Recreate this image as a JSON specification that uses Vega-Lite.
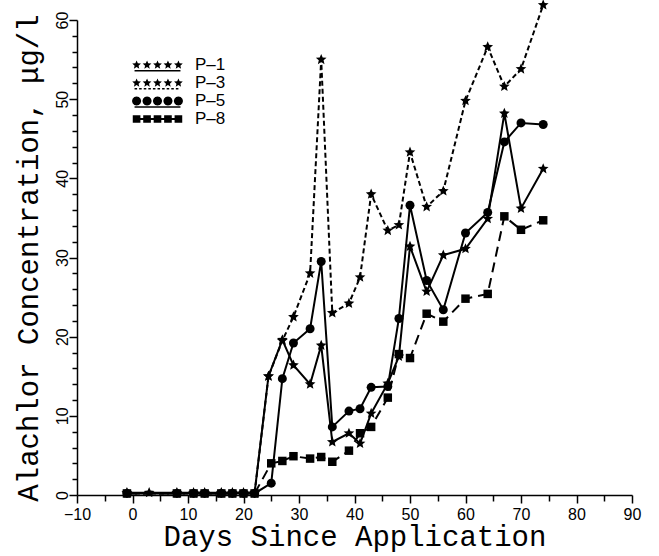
{
  "$schema": "https://vega.github.io/schema/vega-lite/v6.json",
  "width": 555,
  "height": 475,
  "autosize": {"type": "none"},
  "padding": {"left": 77, "top": 20, "right": 27, "bottom": 61},
  "background": "white",
  "config": {"view": {"stroke": null}},
  "data": {
    "values": [
      {"series": "P-1", "day": -1, "value": 0.3},
      {"series": "P-1", "day": 3, "value": 0.3},
      {"series": "P-1", "day": 8, "value": 0.3},
      {"series": "P-1", "day": 11, "value": 0.3},
      {"series": "P-1", "day": 13, "value": 0.3},
      {"series": "P-1", "day": 16, "value": 0.3},
      {"series": "P-1", "day": 18, "value": 0.3},
      {"series": "P-1", "day": 20, "value": 0.3},
      {"series": "P-1", "day": 22, "value": 0.3},
      {"series": "P-1", "day": 24.5, "value": 15.0},
      {"series": "P-1", "day": 27, "value": 19.6},
      {"series": "P-1", "day": 29, "value": 16.4},
      {"series": "P-1", "day": 32, "value": 14.0},
      {"series": "P-1", "day": 34, "value": 18.9},
      {"series": "P-1", "day": 36, "value": 6.7},
      {"series": "P-1", "day": 39, "value": 7.8},
      {"series": "P-1", "day": 41, "value": 6.5},
      {"series": "P-1", "day": 43, "value": 10.3},
      {"series": "P-1", "day": 46, "value": 14.1},
      {"series": "P-1", "day": 48, "value": 17.5},
      {"series": "P-1", "day": 50, "value": 31.4},
      {"series": "P-1", "day": 53, "value": 25.7},
      {"series": "P-1", "day": 56, "value": 30.3},
      {"series": "P-1", "day": 60, "value": 31.1},
      {"series": "P-1", "day": 64, "value": 34.9},
      {"series": "P-1", "day": 67, "value": 48.2},
      {"series": "P-1", "day": 70, "value": 36.2},
      {"series": "P-1", "day": 74, "value": 41.2},

      {"series": "P-3", "day": -1, "value": 0.2},
      {"series": "P-3", "day": 8, "value": 0.2},
      {"series": "P-3", "day": 11, "value": 0.2},
      {"series": "P-3", "day": 13, "value": 0.2},
      {"series": "P-3", "day": 16, "value": 0.2},
      {"series": "P-3", "day": 18, "value": 0.2},
      {"series": "P-3", "day": 20, "value": 0.2},
      {"series": "P-3", "day": 22, "value": 0.2},
      {"series": "P-3", "day": 24.5, "value": 15.0},
      {"series": "P-3", "day": 27, "value": 19.5},
      {"series": "P-3", "day": 29, "value": 22.5},
      {"series": "P-3", "day": 32, "value": 28.0},
      {"series": "P-3", "day": 34, "value": 55.0},
      {"series": "P-3", "day": 36, "value": 23.0},
      {"series": "P-3", "day": 39, "value": 24.2},
      {"series": "P-3", "day": 41, "value": 27.5},
      {"series": "P-3", "day": 43, "value": 38.0},
      {"series": "P-3", "day": 46, "value": 33.4},
      {"series": "P-3", "day": 48, "value": 34.1},
      {"series": "P-3", "day": 50, "value": 43.3},
      {"series": "P-3", "day": 53, "value": 36.4},
      {"series": "P-3", "day": 56, "value": 38.4},
      {"series": "P-3", "day": 60, "value": 49.8},
      {"series": "P-3", "day": 64, "value": 56.6},
      {"series": "P-3", "day": 67, "value": 51.6},
      {"series": "P-3", "day": 70, "value": 53.8},
      {"series": "P-3", "day": 74, "value": 61.9},

      {"series": "P-5", "day": -1, "value": 0.2},
      {"series": "P-5", "day": 8, "value": 0.2},
      {"series": "P-5", "day": 11, "value": 0.2},
      {"series": "P-5", "day": 13, "value": 0.2},
      {"series": "P-5", "day": 16, "value": 0.2},
      {"series": "P-5", "day": 18, "value": 0.2},
      {"series": "P-5", "day": 20, "value": 0.2},
      {"series": "P-5", "day": 22, "value": 0.2},
      {"series": "P-5", "day": 25, "value": 1.5},
      {"series": "P-5", "day": 27, "value": 14.7},
      {"series": "P-5", "day": 29, "value": 19.2},
      {"series": "P-5", "day": 32, "value": 21.0},
      {"series": "P-5", "day": 34, "value": 29.5},
      {"series": "P-5", "day": 36, "value": 8.6},
      {"series": "P-5", "day": 39, "value": 10.6},
      {"series": "P-5", "day": 41, "value": 10.9},
      {"series": "P-5", "day": 43, "value": 13.6},
      {"series": "P-5", "day": 46, "value": 13.7},
      {"series": "P-5", "day": 48, "value": 22.3},
      {"series": "P-5", "day": 50, "value": 36.6},
      {"series": "P-5", "day": 53, "value": 27.1},
      {"series": "P-5", "day": 56, "value": 23.4},
      {"series": "P-5", "day": 60, "value": 33.1},
      {"series": "P-5", "day": 64, "value": 35.7},
      {"series": "P-5", "day": 67, "value": 44.6},
      {"series": "P-5", "day": 70, "value": 47.0},
      {"series": "P-5", "day": 74, "value": 46.8},

      {"series": "P-8", "day": -1, "value": 0.2},
      {"series": "P-8", "day": 8, "value": 0.2},
      {"series": "P-8", "day": 11, "value": 0.2},
      {"series": "P-8", "day": 13, "value": 0.2},
      {"series": "P-8", "day": 16, "value": 0.2},
      {"series": "P-8", "day": 18, "value": 0.2},
      {"series": "P-8", "day": 20, "value": 0.2},
      {"series": "P-8", "day": 22, "value": 0.2},
      {"series": "P-8", "day": 25, "value": 4.0},
      {"series": "P-8", "day": 27, "value": 4.3},
      {"series": "P-8", "day": 29, "value": 4.9},
      {"series": "P-8", "day": 32, "value": 4.6},
      {"series": "P-8", "day": 34, "value": 4.8},
      {"series": "P-8", "day": 36, "value": 4.2},
      {"series": "P-8", "day": 39, "value": 5.6},
      {"series": "P-8", "day": 41, "value": 7.8},
      {"series": "P-8", "day": 43, "value": 8.6},
      {"series": "P-8", "day": 46, "value": 12.3},
      {"series": "P-8", "day": 48, "value": 17.8},
      {"series": "P-8", "day": 50, "value": 17.3},
      {"series": "P-8", "day": 53, "value": 22.9},
      {"series": "P-8", "day": 56, "value": 21.9},
      {"series": "P-8", "day": 60, "value": 24.8},
      {"series": "P-8", "day": 64, "value": 25.4},
      {"series": "P-8", "day": 67, "value": 35.2},
      {"series": "P-8", "day": 70, "value": 33.5},
      {"series": "P-8", "day": 74, "value": 34.7}
    ]
  },
  "encoding": {
    "x": {
      "field": "day", "type": "quantitative",
      "scale": {"domain": [-10, 90], "nice": false, "zero": false},
      "axis": {
        "values": [-10, -5, 0, 5, 10, 15, 20, 25, 30, 35, 40, 45, 50, 55, 60, 65, 70, 75, 80, 85, 90],
        "labelExpr": "datum.value % 10 === 0 ? datum.label : ''",
        "tickSize": {"condition": {"test": "datum.value % 10 === 0", "value": 8}, "value": 6},
        "grid": false,
        "domainColor": "black", "domainWidth": 1.5,
        "tickColor": "black", "tickWidth": 1.5,
        "labelFont": "Liberation Sans", "labelFontSize": 16, "labelColor": "black",
        "labelPadding": 3, "labelOverlap": false, "labelFlush": false,
        "title": "Days Since Application",
        "titleFont": "Liberation Mono", "titleFontSize": 29, "titleFontWeight": "normal",
        "titleColor": "black", "titlePadding": 0
      }
    },
    "y": {
      "field": "value", "type": "quantitative",
      "scale": {"domain": [0, 60], "nice": false},
      "axis": {
        "values": [0, 2, 4, 6, 8, 10, 12, 14, 16, 18, 20, 22, 24, 26, 28, 30, 32, 34, 36, 38, 40, 42, 44, 46, 48, 50, 52, 54, 56, 58, 60],
        "labelExpr": "datum.value % 10 === 0 ? datum.label : ''",
        "tickSize": {"condition": {"test": "datum.value % 10 === 0", "value": 8}, "value": 5},
        "grid": false,
        "domainColor": "black", "domainWidth": 1.5,
        "tickColor": "black", "tickWidth": 1.5,
        "labelFont": "Liberation Sans", "labelFontSize": 16, "labelColor": "black",
        "labelAngle": -90, "labelAlign": "center", "labelBaseline": "alphabetic",
        "labelPadding": 2, "labelOverlap": false, "labelFlush": false,
        "title": "Alachlor Concentration, μg/l",
        "titleFont": "Liberation Mono", "titleFontSize": 29, "titleFontWeight": "normal",
        "titleColor": "black", "titlePadding": 11
      }
    }
  },
  "layer": [
    {
      "transform": [{"filter": {"field": "series", "oneOf": ["P-1", "P-5"]}}],
      "mark": {"type": "line", "color": "black", "strokeWidth": 2},
      "encoding": {"detail": {"field": "series"}}
    },
    {
      "transform": [{"filter": {"field": "series", "equal": "P-3"}}],
      "mark": {"type": "line", "color": "black", "strokeWidth": 2, "strokeDash": [5, 3]},
      "encoding": {}
    },
    {
      "transform": [{"filter": {"field": "series", "equal": "P-8"}}],
      "mark": {"type": "line", "color": "black", "strokeWidth": 2, "strokeDash": [10, 6]},
      "encoding": {}
    },
    {
      "transform": [{"filter": {"field": "series", "oneOf": ["P-1", "P-3"]}}],
      "mark": {"type": "point", "filled": true, "color": "black", "opacity": 1, "strokeWidth": 0, "size": 81,
               "shape": "M0,-1.25L0.33,-0.455L1.19,-0.386L0.535,0.174L0.735,1.011L0,0.563L-0.735,1.011L-0.535,0.174L-1.19,-0.386L-0.33,-0.455Z"},
      "encoding": {}
    },
    {
      "transform": [{"filter": {"field": "series", "equal": "P-5"}}],
      "mark": {"type": "point", "filled": true, "color": "black", "opacity": 1, "strokeWidth": 0, "size": 81, "shape": "circle"},
      "encoding": {}
    },
    {
      "transform": [{"filter": {"field": "series", "equal": "P-8"}}],
      "mark": {"type": "point", "filled": true, "color": "black", "opacity": 1, "strokeWidth": 0, "size": 72, "shape": "square"},
      "encoding": {}
    },
    {
      "transform": [{"filter": {"field": "series", "equal": "legend-only"}}],
      "mark": {"type": "point", "filled": true, "color": "black", "opacity": 1, "strokeWidth": 0, "size": 2601},
      "encoding": {
        "shape": {
          "field": "series", "type": "nominal",
          "scale": {
            "domain": ["P-1", "P-3", "P-5", "P-8"],
            "range": [
              "M-0.82,-0.18L-0.772,-0.066L-0.649,-0.056L-0.743,0.025L-0.714,0.146L-0.82,0.081L-0.926,0.146L-0.897,0.025L-0.991,-0.056L-0.868,-0.066ZM-0.41,-0.18L-0.362,-0.066L-0.239,-0.056L-0.333,0.025L-0.304,0.146L-0.41,0.081L-0.516,0.146L-0.487,0.025L-0.581,-0.056L-0.458,-0.066ZM0,-0.18L0.048,-0.066L0.171,-0.056L0.077,0.025L0.106,0.146L0,0.081L-0.106,0.146L-0.077,0.025L-0.171,-0.056L-0.048,-0.066ZM0.41,-0.18L0.458,-0.066L0.581,-0.056L0.487,0.025L0.516,0.146L0.41,0.081L0.304,0.146L0.333,0.025L0.239,-0.056L0.362,-0.066ZM0.82,-0.18L0.868,-0.066L0.991,-0.056L0.897,0.025L0.926,0.146L0.82,0.081L0.714,0.146L0.743,0.025L0.649,-0.056L0.772,-0.066ZM-0.9,0.2L0.9,0.2L0.9,0.25L-0.9,0.25Z",
              "M-0.82,-0.18L-0.772,-0.066L-0.649,-0.056L-0.743,0.025L-0.714,0.146L-0.82,0.081L-0.926,0.146L-0.897,0.025L-0.991,-0.056L-0.868,-0.066ZM-0.41,-0.18L-0.362,-0.066L-0.239,-0.056L-0.333,0.025L-0.304,0.146L-0.41,0.081L-0.516,0.146L-0.487,0.025L-0.581,-0.056L-0.458,-0.066ZM0,-0.18L0.048,-0.066L0.171,-0.056L0.077,0.025L0.106,0.146L0,0.081L-0.106,0.146L-0.077,0.025L-0.171,-0.056L-0.048,-0.066ZM0.41,-0.18L0.458,-0.066L0.581,-0.056L0.487,0.025L0.516,0.146L0.41,0.081L0.304,0.146L0.333,0.025L0.239,-0.056L0.362,-0.066ZM0.82,-0.18L0.868,-0.066L0.991,-0.056L0.897,0.025L0.926,0.146L0.82,0.081L0.714,0.146L0.743,0.025L0.649,-0.056L0.772,-0.066ZM-0.9,0.2L-0.8,0.2L-0.8,0.25L-0.9,0.25ZM-0.72,0.2L-0.62,0.2L-0.62,0.25L-0.72,0.25ZM-0.54,0.2L-0.44,0.2L-0.44,0.25L-0.54,0.25ZM-0.36,0.2L-0.26,0.2L-0.26,0.25L-0.36,0.25ZM-0.18,0.2L-0.08,0.2L-0.08,0.25L-0.18,0.25ZM0,0.2L0.1,0.2L0.1,0.25L0,0.25ZM0.18,0.2L0.28,0.2L0.28,0.25L0.18,0.25ZM0.36,0.2L0.46,0.2L0.46,0.25L0.36,0.25ZM0.54,0.2L0.64,0.2L0.64,0.25L0.54,0.25ZM0.72,0.2L0.82,0.2L0.82,0.25L0.72,0.25Z",
              "M-0.64,0L-0.664,0.09L-0.73,0.156L-0.82,0.18L-0.91,0.156L-0.976,0.09L-1,0L-0.976,-0.09L-0.91,-0.156L-0.82,-0.18L-0.73,-0.156L-0.664,-0.09ZM-0.23,0L-0.254,0.09L-0.32,0.156L-0.41,0.18L-0.5,0.156L-0.566,0.09L-0.59,0L-0.566,-0.09L-0.5,-0.156L-0.41,-0.18L-0.32,-0.156L-0.254,-0.09ZM0.18,0L0.156,0.09L0.09,0.156L0,0.18L-0.09,0.156L-0.156,0.09L-0.18,0L-0.156,-0.09L-0.09,-0.156L0,-0.18L0.09,-0.156L0.156,-0.09ZM0.59,0L0.566,0.09L0.5,0.156L0.41,0.18L0.32,0.156L0.254,0.09L0.23,0L0.254,-0.09L0.32,-0.156L0.41,-0.18L0.5,-0.156L0.566,-0.09ZM1,0L0.976,0.09L0.91,0.156L0.82,0.18L0.73,0.156L0.664,0.09L0.64,0L0.664,-0.09L0.73,-0.156L0.82,-0.18L0.91,-0.156L0.976,-0.09ZM-0.9,0.21L0.9,0.21L0.9,0.26L-0.9,0.26Z",
              "M-0.97,-0.15L-0.67,-0.15L-0.67,0.15L-0.97,0.15ZM-0.56,-0.15L-0.26,-0.15L-0.26,0.15L-0.56,0.15ZM-0.15,-0.15L0.15,-0.15L0.15,0.15L-0.15,0.15ZM0.26,-0.15L0.56,-0.15L0.56,0.15L0.26,0.15ZM0.67,-0.15L0.97,-0.15L0.97,0.15L0.67,0.15ZM-0.85,-0.04L0.85,-0.04L0.85,0.04L-0.85,0.04Z"
            ]
          },
          "legend": {
            "title": null,
            "orient": "none",
            "legendX": 55,
            "legendY": 37,
            "padding": 0,
            "symbolSize": 2601,
            "clipHeight": 16,
            "rowPadding": 1,
            "labelFont": "Liberation Sans",
            "labelFontSize": 17,
            "labelColor": "black",
            "labelOffset": 12,
            "labelExpr": "replace(datum.label, '-', '–')",
            "symbolStrokeWidth": 0,
            "symbolFillColor": "black",
            "symbolOpacity": 1
          }
        }
      }
    }
  ]
}
